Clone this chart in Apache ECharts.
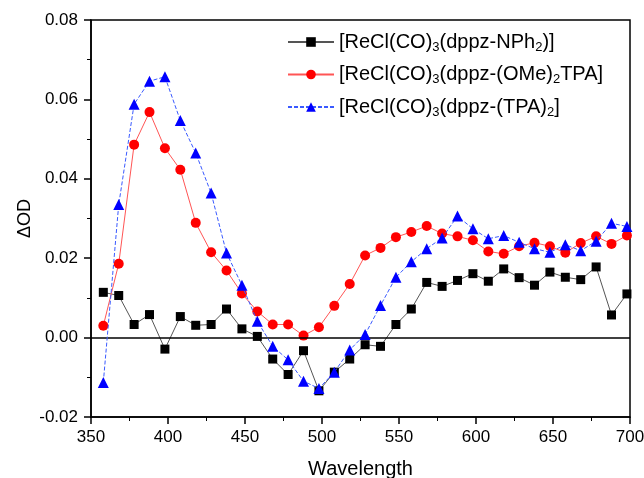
<!DOCTYPE html>
<html>
<head>
<meta charset="utf-8">
<script src="https://cdn.jsdelivr.net/npm/echarts@6/dist/echarts.min.js"></script>
<style>
html, body { margin: 0; padding: 0; background: #fff; }
#container { width: 644px; height: 478px; }
</style>
</head>
<body>
<div id="container"></div>
<script>
var chart = echarts.init(document.getElementById('container'));

// wavelengths (nm)
var wavelength = [358, 368, 378, 388, 398, 408, 418, 428, 438, 448,
    458, 468, 478, 488, 498, 508, 518, 528, 538, 548,
    558, 568, 578, 588, 598, 608, 618, 628, 638, 648,
    658, 668, 678, 688, 698];

var nph2 = [0.0114, 0.0106, 0.0033, 0.0058, -0.0029, 0.0053, 0.0031, 0.0033, 0.0072, 0.0022,
    0.0003, -0.0054, -0.0093, -0.0033, -0.0134, -0.0087, -0.0054, -0.0018, -0.0022, 0.0033,
    0.0072, 0.0139, 0.0129, 0.0144, 0.0161, 0.0142, 0.0173, 0.0151, 0.0132, 0.0165,
    0.0152, 0.0146, 0.0178, 0.0057, 0.0110];

var ome2tpa = [0.0030, 0.0186, 0.0486, 0.0568, 0.0477, 0.0423, 0.0289, 0.0215, 0.0169, 0.0111,
    0.0066, 0.0033, 0.0033, 0.0005, 0.0026, 0.0080, 0.0135, 0.0207, 0.0226, 0.0253,
    0.0266, 0.0281, 0.0262, 0.0255, 0.0245, 0.0217, 0.0211, 0.0230, 0.0239, 0.0230,
    0.0214, 0.0238, 0.0255, 0.0236, 0.0257];

var tpa2 = [-0.0113, 0.0335, 0.0588, 0.0646, 0.0657, 0.0547, 0.0465, 0.0364, 0.0213, 0.0132,
    0.0041, -0.0022, -0.0056, -0.0110, -0.0128, -0.0087, -0.0031, 0.0008, 0.0081, 0.0152,
    0.0191, 0.0224, 0.0251, 0.0306, 0.0274, 0.0249, 0.0257, 0.0240, 0.0224, 0.0215,
    0.0234, 0.0219, 0.0243, 0.0288, 0.0280];

var names = ['NPh2', 'OMe2TPA', 'TPA2'];
var legendText = {
    'NPh2': '[ReCl(CO){s|3}(dppz-NPh{s|2})]',
    'OMe2TPA': '[ReCl(CO){s|3}(dppz-(OMe){s|2}TPA]',
    'TPA2': '[ReCl(CO){s|3}(dppz-(TPA){s|2}]'
};

function pairs(ys) {
    return wavelength.map(function (x, i) { return [x, ys[i]]; });
}

var font = 'Liberation Sans, Arial, sans-serif';

var option = {
    backgroundColor: '#fff',
    animation: false,
    grid: {
        left: 91,
        right: 14,
        top: 20,
        bottom: 61,
        outerBoundsMode: 'none',
        show: true,
        borderColor: '#000',
        borderWidth: 1.5
    },
    legend: {
        orient: 'vertical',
        left: 282,
        top: 27,
        itemWidth: 46,
        itemHeight: 12,
        itemGap: 11,
        data: names,
        formatter: function (n) { return legendText[n]; },
        textStyle: {
            fontFamily: font,
            fontSize: 20,
            color: '#000',
            rich: {
                s: { fontFamily: font, fontSize: 13, padding: [10, 0, 0, 0], color: '#000' }
            }
        }
    },
    xAxis: {
        type: 'value',
        min: 350,
        max: 700,
        interval: 50,
        name: 'Wavelength',
        nameLocation: 'middle',
        nameGap: 42,
        nameMoveOverlap: false,
        nameTextStyle: { fontFamily: font, fontSize: 20, color: '#000' },
        axisLine: { onZero: false, lineStyle: { color: '#000', width: 1.5 } },
        axisTick: { length: 7, lineStyle: { color: '#000', width: 1.5 } },
        minorTick: { show: true, splitNumber: 2, length: 4, lineStyle: { color: '#000', width: 1 } },
        axisLabel: { fontFamily: font, fontSize: 17, color: '#000', margin: 12 },
        splitLine: { show: false }
    },
    yAxis: {
        type: 'value',
        min: -0.02,
        max: 0.08,
        interval: 0.02,
        name: 'ΔOD',
        nameLocation: 'middle',
        nameGap: 57,
        nameMoveOverlap: false,
        nameTextStyle: { fontFamily: font, fontSize: 18, color: '#000' },
        axisLine: { onZero: false, lineStyle: { color: '#000', width: 1.5 } },
        axisTick: { length: 7, lineStyle: { color: '#000', width: 1.5 } },
        minorTick: { show: true, splitNumber: 2, length: 4, lineStyle: { color: '#000', width: 1 } },
        axisLabel: {
            fontFamily: font, fontSize: 17, color: '#000', margin: 13,
            formatter: function (v) { return v.toFixed(2); }
        },
        splitLine: { show: false }
    },
    series: [
        {
            name: 'NPh2',
            type: 'line',
            data: pairs(nph2),
            symbol: 'rect',
            symbolSize: 9,
            itemStyle: { color: '#000' },
            lineStyle: { color: '#555', width: 1 },
            markLine: {
                silent: true,
                symbol: 'none',
                label: { show: false },
                lineStyle: { color: '#000', width: 1.5, type: 'solid' },
                data: [{ yAxis: 0 }]
            },
            z: 3
        },
        {
            name: 'OMe2TPA',
            type: 'line',
            data: pairs(ome2tpa),
            symbol: 'circle',
            symbolSize: 10,
            itemStyle: { color: '#ff0000' },
            lineStyle: { color: '#ff5555', width: 1 },
            z: 4
        },
        {
            name: 'TPA2',
            type: 'line',
            data: pairs(tpa2),
            symbol: 'triangle',
            symbolSize: 11,
            itemStyle: { color: '#0000ff' },
            lineStyle: { color: '#3a5aff', width: 1, type: [4, 2] },
            z: 5
        }
    ]
};
chart.setOption(option);
</script>
</body>
</html>
